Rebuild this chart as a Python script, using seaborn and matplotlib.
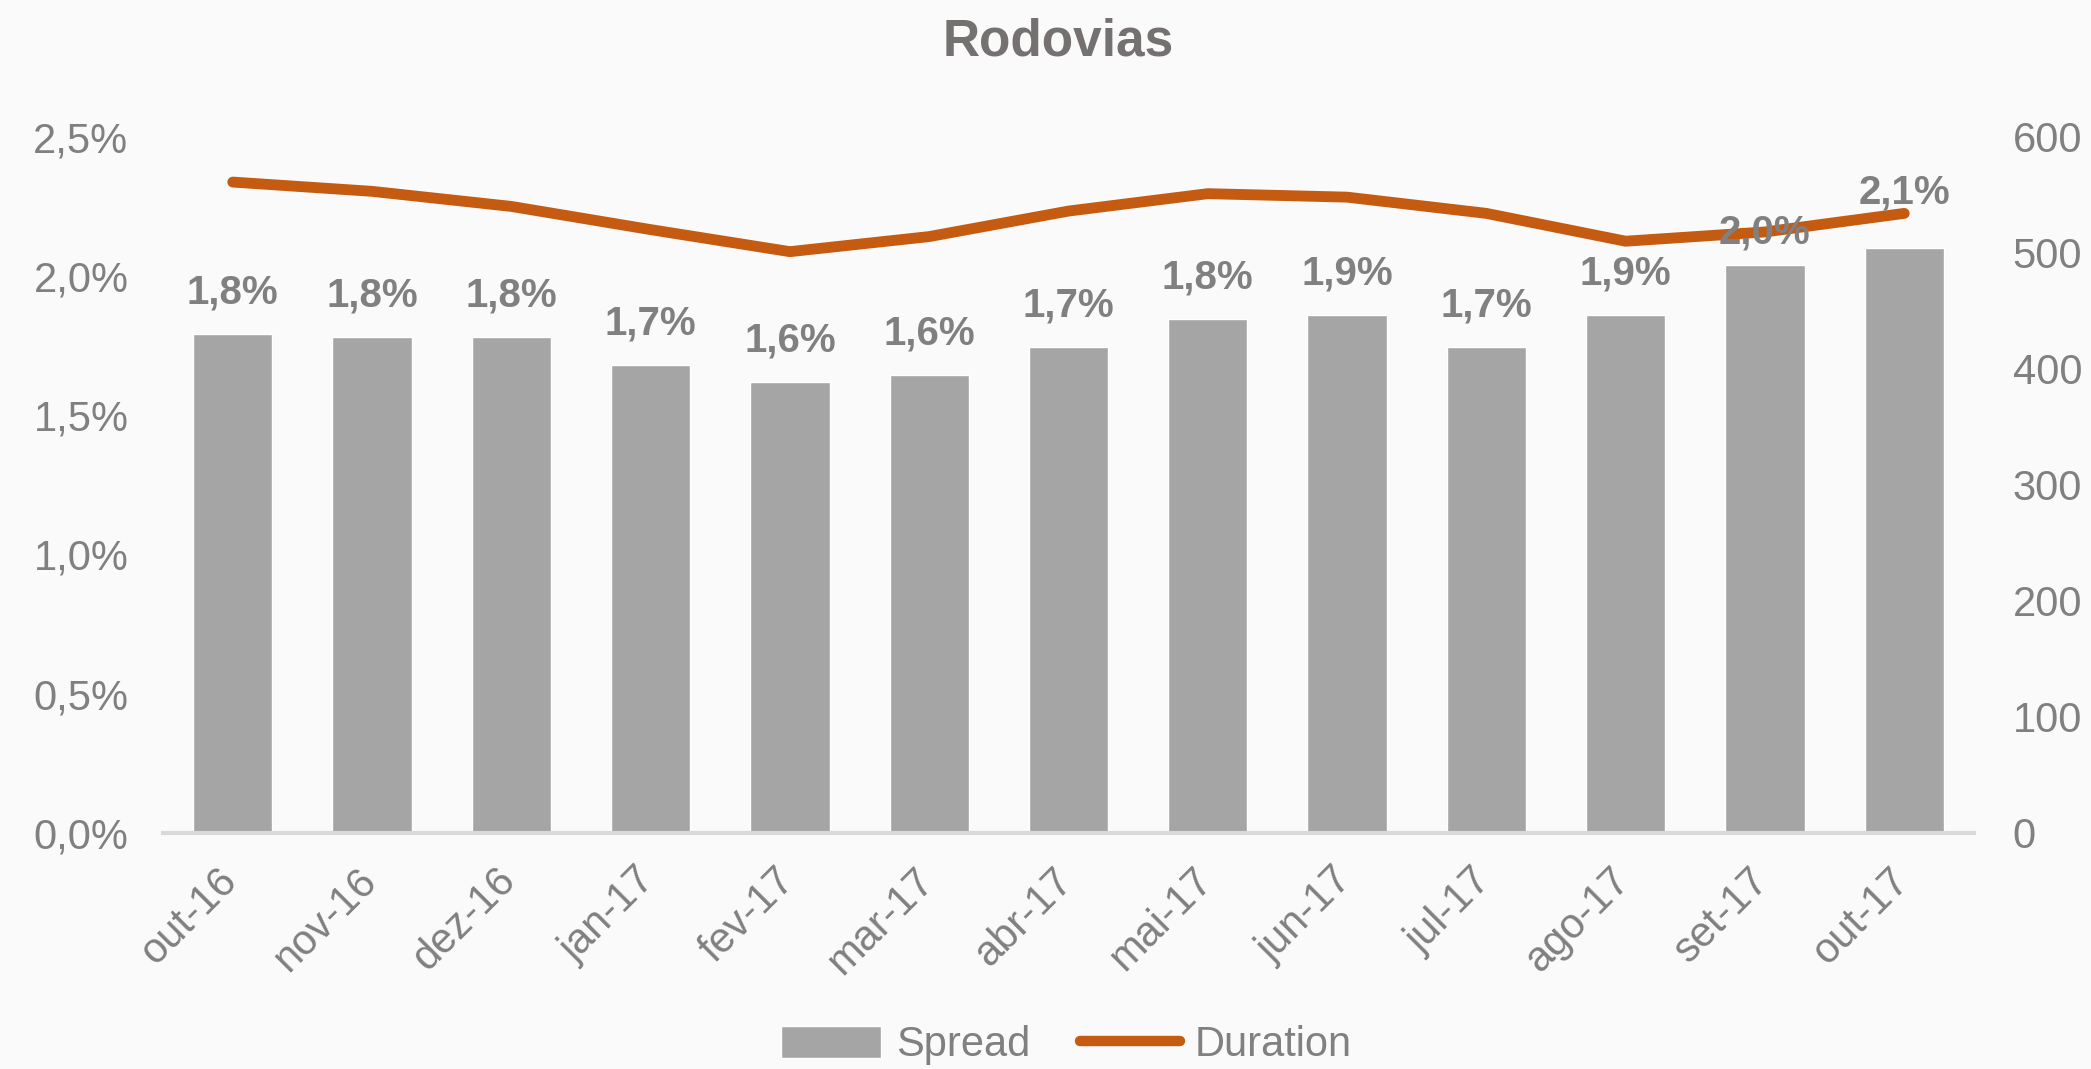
import numpy as np
import matplotlib
matplotlib.use("Agg")
import matplotlib.pyplot as plt
import matplotlib.transforms as mtransforms
import seaborn as sns
from matplotlib.ticker import FuncFormatter
from matplotlib.lines import Line2D
from matplotlib.patches import Patch

# data
months = ["out-16", "nov-16", "dez-16", "jan-17", "fev-17", "mar-17", "abr-17",
          "mai-17", "jun-17", "jul-17", "ago-17", "set-17", "out-17"]
spread = [1.79, 1.78, 1.78, 1.68, 1.62, 1.645, 1.745, 1.845, 1.86, 1.745, 1.86, 2.04, 2.10]
duration = [561, 553, 540, 520, 501, 514, 536, 551, 548, 534, 510, 518, 534]

# label offsets above the bar tops (points); the last two were moved by hand in the original
label_offset = [30] * 11 + [23, 40]

bar_color = "#a5a5a5"
line_color = "#c55a11"
text_color = "#808080"
bg = "#fafafa"

sns.set_theme(style="white")
plt.rcParams["font.family"] = ["Liberation Sans", "DejaVu Sans"]

fig = plt.figure(figsize=(20.91, 10.69), dpi=100, facecolor=bg)
ax = fig.add_axes([0.078, 0.221, 0.866, 0.651])
ax.set_facecolor(bg)

sns.barplot(x=months, y=spread, color=bar_color, width=0.57, saturation=1, ax=ax)

ax2 = ax.twinx()
sns.lineplot(x=np.arange(len(months)), y=duration, color=line_color, lw=7.8, ax=ax2)
for l in ax2.lines:
    l.set_solid_capstyle("round")
    l.set_solid_joinstyle("round")

ax.set_xlim(-0.5, len(months) - 0.5)
ax.set_ylim(0, 2.5)
ax2.set_ylim(0, 600)
ax.set_yticks(np.arange(0, 2.51, 0.5))
ax2.set_yticks(np.arange(0, 601, 100))
ax.yaxis.set_major_formatter(FuncFormatter(lambda v, p: f"{v:.1f}%".replace(".", ",")))

for a in (ax, ax2):
    for s in a.spines.values():
        s.set_visible(False)
    a.tick_params(length=0, labelsize=30, colors=text_color)
    a.set_xlabel("")
    a.set_ylabel("")
ax.spines["bottom"].set_visible(True)
ax.spines["bottom"].set_color("#d9d9d9")
ax.spines["bottom"].set_linewidth(3)
ax.tick_params(axis="y", pad=25)
ax2.tick_params(axis="y", pad=28)
ax.tick_params(axis="x", pad=20)
shift = mtransforms.ScaledTranslation(-0.16, 0, fig.dpi_scale_trans)
for lab in ax.get_xticklabels():
    lab.set_rotation(45)
    lab.set_ha("right")
    lab.set_rotation_mode("anchor")
    lab.set_transform(lab.get_transform() + shift)

# data labels above the bars
for i, v in enumerate(spread):
    ax2.annotate(f"{v:.1f}%".replace(".", ","), xy=(i, v), xycoords=ax.transData,
                 xytext=(0, label_offset[i]), textcoords="offset points",
                 ha="center", va="center", fontsize=29, fontweight="bold", color=text_color)

fig.text(1058 / 2091, 1 - 42 / 1069, "Rodovias", ha="center", va="center",
         fontsize=37, fontweight="bold", color="#767171")

handles = [Patch(facecolor=bar_color, label="Spread"),
           Line2D([0], [0], color=line_color, lw=7.5, label="Duration")]
fig.legend(handles=handles, loc="center", bbox_to_anchor=(0.51, 0.022), ncol=2,
           frameon=False, fontsize=30, labelcolor=text_color, handlelength=2.4,
           handleheight=0.8, handletextpad=0.35, columnspacing=1.2)

fig.savefig("out.png", dpi=100, facecolor=bg)
